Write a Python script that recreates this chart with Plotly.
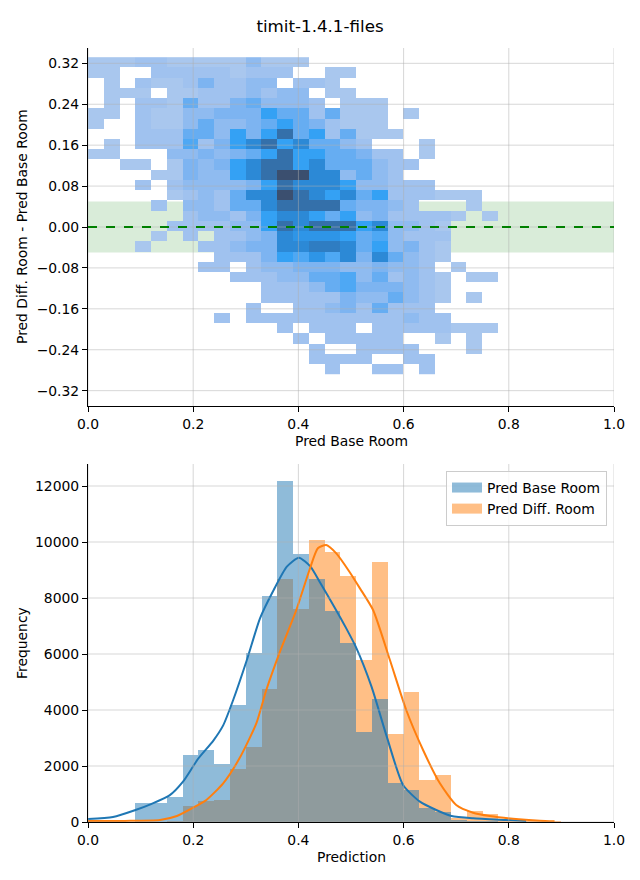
import plotly.graph_objects as go

# ---------------- data ----------------
# 2D histogram (top panel): bin edges and estimated relative bin densities (0 = empty)
heat_x_edges = [0.00, 0.03, 0.06, 0.09, 0.12, 0.15, 0.18, 0.21, 0.24, 0.27, 0.30, 0.33, 0.36,
                0.39, 0.42, 0.45, 0.48, 0.51, 0.54, 0.57, 0.60, 0.63, 0.66, 0.69, 0.72, 0.75, 0.78]
heat_y_edges_top_down = [0.332, 0.312, 0.292, 0.272, 0.252, 0.232, 0.212, 0.192, 0.172, 0.152, 0.132,
                         0.112, 0.092, 0.072, 0.052, 0.032, 0.012, -0.008, -0.028, -0.048, -0.068,
                         -0.088, -0.108, -0.128, -0.148, -0.168, -0.188, -0.208, -0.228, -0.248,
                         -0.268, -0.288]
# rows from top (y=0.33) to bottom (y=-0.29); columns x bins 0..25
heat_density = [
    [1, 1, 1, 1.5, 1.5, 1, 1, 1, 1, 1, 2, 1, 1, 1, 0, 0, 0, 0, 0, 0, 0, 0, 0, 0, 0, 0],
    [1, 1, 0, 0, 1.5, 1.5, 1.5, 1.5, 1.5, 1, 1.5, 1.5, 1.5, 0, 0, 1, 1, 0, 0, 0, 0, 0, 0, 0, 0, 0],
    [0, 1, 0, 1.5, 1, 1, 1.5, 2.5, 1.5, 1.5, 2, 2, 0, 1.5, 1.5, 1, 0, 0, 0, 0, 0, 0, 0, 0, 0, 0],
    [0, 1, 1, 1, 0, 1, 1, 1.5, 1.5, 1.5, 2, 1.5, 2, 2, 0, 1, 1, 0, 0, 0, 0, 0, 0, 0, 0, 0],
    [0, 1, 0, 1.5, 1.5, 1, 3, 1.5, 1.5, 2.5, 3, 2, 2, 2, 1.5, 0, 1, 1, 1, 0, 0, 0, 0, 0, 0, 0],
    [1, 1, 0, 1.5, 1, 1, 2, 2, 2.5, 2.5, 2.5, 4, 3, 3, 1.5, 3, 1, 1, 1, 0, 1, 0, 0, 0, 0, 0],
    [1, 0, 0, 1.5, 1, 1, 2, 3, 2, 2, 2.5, 3, 4, 3, 2.5, 1.5, 1, 1, 1, 0, 0, 0, 0, 0, 0, 0],
    [0, 0, 0, 1.5, 1.5, 1.5, 3, 3, 2, 4, 2.5, 4, 6, 3, 4, 1.5, 3, 1, 1, 1, 0, 0, 0, 0, 0, 0],
    [0, 1, 0, 1.5, 1.5, 1.5, 3.5, 1.5, 2.5, 4, 5, 6, 4, 5, 3, 3, 2, 1.5, 0, 0, 0, 1, 0, 0, 0, 0],
    [1, 1, 0, 0, 0, 2, 2, 2.5, 2, 2.5, 3, 4, 6, 4, 4, 3, 3, 2.5, 1.5, 1.5, 0, 1, 0, 0, 0, 0],
    [0, 0, 1, 1, 0, 1, 2.5, 2, 2.5, 4, 5, 6, 6, 4, 5, 3, 3, 3, 2, 1.5, 1.5, 0, 0, 0, 0, 0],
    [0, 0, 0, 0, 1, 1, 2.5, 2, 2, 4, 5, 6, 7, 7, 5, 5, 2, 3, 2, 1.5, 0, 0, 0, 0, 0, 0],
    [0, 0, 0, 1.5, 0, 1.5, 2, 2, 2, 2, 2.5, 4, 6, 5, 5, 5, 4, 2, 2, 1.5, 1.5, 1.5, 0, 0, 0, 0],
    [0, 0, 0, 0, 0, 1, 1.5, 2, 1.5, 3, 5, 5, 7, 6, 5, 4, 5, 3, 4, 1.5, 1.5, 1.5, 1, 1, 1, 0],
    [0, 0, 0, 0, 1.5, 0, 2, 2, 1.5, 3, 3, 5, 6, 6, 6, 6, 3, 2.5, 2.5, 2, 1.5, 0, 0, 0, 1, 0],
    [0, 0, 0, 0, 0, 0, 1.5, 2, 2, 1.5, 2.5, 4, 5, 5, 4, 3, 4, 2, 2.5, 1.5, 1.5, 1.5, 1.5, 1, 0, 1],
    [0, 0, 0, 0, 0, 1.5, 1.5, 1.5, 1.5, 2, 2, 4, 6, 5, 6, 6, 6, 4, 5, 2, 2, 1.5, 1, 0, 0, 0],
    [0, 0, 0, 0, 1, 0, 1.5, 0, 1.5, 1.5, 2, 2.5, 5, 4.5, 4.5, 4.5, 4, 3, 3.5, 2, 1.5, 1.5, 1.5, 0, 0, 0],
    [0, 0, 0, 1, 0, 0, 0, 1.5, 1.5, 2, 2.5, 2.5, 5, 5, 5.5, 5.5, 5, 3, 4, 2, 2.5, 1.5, 1, 0, 0, 0],
    [0, 0, 0, 0, 0, 0, 0, 0, 1.5, 1.5, 1.5, 2.5, 4, 3.5, 4.5, 3.5, 5, 2.5, 5, 3, 2, 1.5, 1, 0, 0, 0],
    [0, 0, 0, 0, 0, 0, 0, 1.5, 1.5, 0, 1.5, 2, 2, 2.5, 2.5, 2.5, 2, 2, 2.5, 2, 2, 1.5, 0, 1, 0, 0],
    [0, 0, 0, 0, 0, 0, 0, 0, 0, 1.5, 1.5, 1.5, 2, 2, 3, 3, 3.5, 2, 3, 1.5, 2, 1.5, 1, 0, 1, 1],
    [0, 0, 0, 0, 0, 0, 0, 0, 0, 0, 0, 1.5, 1.5, 1.5, 2, 3, 3.5, 2.5, 2.5, 2.5, 2, 1.5, 1, 0, 0, 0],
    [0, 0, 0, 0, 0, 0, 0, 0, 0, 0, 0, 1.5, 1.5, 1.5, 1.5, 1.5, 2.5, 2, 2, 3, 2, 1.5, 1, 0, 1, 0],
    [0, 0, 0, 0, 0, 0, 0, 0, 0, 0, 1.5, 0, 0, 1.5, 1.5, 2, 2.5, 1.5, 3, 1.5, 1.5, 1.5, 0, 0, 0, 0],
    [0, 0, 0, 0, 0, 0, 0, 0, 1.5, 0, 1.5, 1.5, 1.5, 1.5, 1.5, 1.5, 1.5, 1.5, 1.5, 1.5, 2, 1.5, 1.5, 0, 0, 0],
    [0, 0, 0, 0, 0, 0, 0, 0, 0, 0, 0, 0, 1.5, 0, 1.5, 1.5, 1.5, 0, 1.5, 1.5, 1.5, 1.5, 1.5, 1, 1, 1],
    [0, 0, 0, 0, 0, 0, 0, 0, 0, 0, 0, 0, 0, 1.5, 0, 1.5, 1.5, 1.5, 1.5, 1.5, 0, 0, 1, 0, 1, 0],
    [0, 0, 0, 0, 0, 0, 0, 0, 0, 0, 0, 0, 0, 0, 1.5, 0, 0, 1.5, 1.5, 1.5, 1.5, 0, 0, 0, 1, 0],
    [0, 0, 0, 0, 0, 0, 0, 0, 0, 0, 0, 0, 0, 0, 1.5, 1.5, 1.5, 1.5, 0, 0, 1.5, 1.5, 0, 0, 0, 0],
    [0, 0, 0, 0, 0, 0, 0, 0, 0, 0, 0, 0, 0, 0, 0, 1.5, 0, 0, 1.5, 1.5, 0, 1.5, 0, 0, 0, 0],
]

# histogram (bottom panel)
hist_bin_centers = [0.015, 0.045, 0.075, 0.105, 0.135, 0.165, 0.195, 0.225, 0.255, 0.285, 0.315,
                    0.345, 0.375, 0.405, 0.435, 0.465, 0.495, 0.525, 0.555, 0.585, 0.615, 0.645,
                    0.675, 0.705, 0.735, 0.765, 0.795, 0.825, 0.855, 0.885]
hist_base = [0, 0, 0, 690, 690, 900, 2390, 2570, 2070, 4170, 6050, 8070, 12180, 9570, 8680,
             7540, 6380, 3230, 4390, 1400, 1140, 510, 370, 80, 50, 30, 10, 10, 0, 0]
hist_diff = [0, 0, 0, 0, 10, 50, 570, 760, 790, 1900, 2690, 4740, 8680, 7610, 10070, 9630,
             8790, 5790, 9290, 3140, 4640, 1500, 1690, 130, 390, 290, 80, 50, 30, 20]

kde_base_x = [0.0, 0.0475, 0.089, 0.121, 0.155, 0.181, 0.209, 0.238, 0.257, 0.276, 0.302, 0.327,
              0.353, 0.378, 0.401, 0.423, 0.442, 0.468, 0.490, 0.509, 0.539, 0.568, 0.599, 0.631,
              0.662, 0.691, 0.732, 0.795, 0.833]
kde_base_y = [107, 180, 420, 650, 950, 1450, 2250, 2900, 3450, 4357, 5786, 7274, 8286, 9119, 9440,
              9119, 8524, 7690, 6950, 6262, 4833, 3048, 1321, 726, 429, 214, 131, 71, 36]
kde_diff_x = [0.0, 0.07, 0.137, 0.169, 0.200, 0.225, 0.257, 0.288, 0.320, 0.339, 0.365, 0.396,
              0.421, 0.437, 0.453, 0.472, 0.497, 0.517, 0.542, 0.574, 0.605, 0.637, 0.669, 0.700,
              0.732, 0.764, 0.808, 0.859, 0.887]
kde_diff_y = [36, 40, 71, 214, 512, 786, 1381, 2274, 3524, 4714, 6083, 7571, 9000, 9774, 9893,
              9595, 8940, 8345, 7571, 5786, 4000, 2571, 1381, 607, 333, 214, 119, 48, 24]

top_x_ticks = [0.0, 0.2, 0.4, 0.6, 0.8, 1.0]
top_x_labels = ["0.0", "0.2", "0.4", "0.6", "0.8", "1.0"]
top_y_ticks = [-0.32, -0.24, -0.16, -0.08, 0.0, 0.08, 0.16, 0.24, 0.32]
top_y_labels = ["\u22120.32", "\u22120.24", "\u22120.16", "\u22120.08", "0.00", "0.08", "0.16", "0.24", "0.32"]
bot_y_ticks = [0, 2000, 4000, 6000, 8000, 10000, 12000]
bot_y_labels = ["0", "2000", "4000", "6000", "8000", "10000", "12000"]

# ---------------- figure ----------------
FONT = "DejaVu Sans"
OFF = 8                      # page body margin added by the html page
W, H = 640 - OFF, 880 - OFF
ML, MR, MT, MB = 88 - OFF, 26, 48 - OFF, 58
plot_w = W - ML - MR
plot_h = H - MT - MB
top_dom = [(822 - 406) / plot_h, 1.0]
bot_dom = [0.0, (822 - 464) / plot_h]


def page_x(px):
    return (px - OFF - ML) / plot_w


def page_y(py):
    return (H - MB - (py - OFF)) / plot_h


fig = go.Figure()

z_rows = [[(v if v > 0 else None) for v in row] for row in reversed(heat_density)]
y_edges = list(reversed(heat_y_edges_top_down))

cscale = [
    [0.0, "#a9c7ee"], [0.083, "#a0c2ef"], [0.167, "#8fbbf0"], [0.25, "#7db4f1"],
    [0.333, "#66adf2"], [0.417, "#4ea8f4"], [0.5, "#34a1f4"], [0.583, "#2e95e7"],
    [0.667, "#2c89d6"], [0.75, "#2f7dc2"], [0.833, "#3470aa"], [1.0, "#3b4f6f"],
]
fig.add_trace(go.Heatmap(
    x=heat_x_edges, y=y_edges, z=z_rows, zmin=1, zmax=7, colorscale=cscale,
    showscale=False, hoverongaps=False, xaxis="x", yaxis="y", zsmooth=False,
))

BLUE_A = "rgba(31,119,180,0.5)"
ORANGE_A = "rgba(255,127,14,0.5)"
# histogram bars (orange first, blue overlaid)
fig.add_trace(go.Bar(
    x=hist_bin_centers, y=hist_diff, width=0.03, name="Pred Diff. Room",
    marker=dict(color=ORANGE_A, line=dict(width=0)), showlegend=False,
    xaxis="x2", yaxis="y2",
))
fig.add_trace(go.Bar(
    x=hist_bin_centers, y=hist_base, width=0.03, name="Pred Base Room",
    marker=dict(color=BLUE_A, line=dict(width=0)), showlegend=False,
    xaxis="x2", yaxis="y2",
))
fig.add_trace(go.Scatter(
    x=kde_base_x, y=kde_base_y, mode="lines",
    line=dict(color="#1f77b4", width=2, shape="spline", smoothing=0.6),
    showlegend=False, xaxis="x2", yaxis="y2",
))
fig.add_trace(go.Scatter(
    x=kde_diff_x, y=kde_diff_y, mode="lines",
    line=dict(color="#ff7f0e", width=2, shape="spline", smoothing=0.6),
    showlegend=False, xaxis="x2", yaxis="y2",
))
# legend patches (wide rectangles like the reference)
fig.add_trace(go.Scatter(x=[None], y=[None], mode="lines", name="Pred Base Room",
                         line=dict(color=BLUE_A, width=10), xaxis="x2", yaxis="y2", legendrank=1))
fig.add_trace(go.Scatter(x=[None], y=[None], mode="lines", name="Pred Diff. Room",
                         line=dict(color=ORANGE_A, width=10), xaxis="x2", yaxis="y2", legendrank=2))

shapes = []
shapes.append(dict(type="rect", xref="x domain", yref="y", x0=0, x1=1, y0=-0.05, y1=0.05,
                   fillcolor="rgba(0,128,0,0.15)", line=dict(width=0), layer="below"))
grid_col = "rgba(176,176,176,0.5)"
for t in top_x_ticks:
    shapes.append(dict(type="line", xref="x", yref="y domain", x0=t, x1=t, y0=0, y1=1,
                       line=dict(color=grid_col, width=1), layer="above"))
for t in top_y_ticks:
    shapes.append(dict(type="line", xref="x domain", yref="y", x0=0, x1=1, y0=t, y1=t,
                       line=dict(color=grid_col, width=1), layer="above"))
shapes.append(dict(type="line", xref="x domain", yref="y", x0=0, x1=1, y0=0, y1=0,
                   line=dict(color="green", width=2, dash="dash"), layer="above"))
for t in top_x_ticks:
    shapes.append(dict(type="line", xref="x2", yref="y2 domain", x0=t, x1=t, y0=0, y1=1,
                       line=dict(color=grid_col, width=1), layer="above"))
for t in bot_y_ticks:
    shapes.append(dict(type="line", xref="x2 domain", yref="y2", x0=0, x1=1, y0=t, y1=t,
                       line=dict(color=grid_col, width=1), layer="above"))

axis_common = dict(showline=True, linecolor="black", linewidth=1, ticks="outside", ticklen=5,
                   tickwidth=1, tickcolor="black", showgrid=False, zeroline=False,
                   layer="above traces", tickfont=dict(family=FONT, size=13.9, color="black"))

fs = 13.9
fig.update_layout(
    width=W, height=H, margin=dict(l=ML, r=MR, t=MT, b=MB, autoexpand=False),
    paper_bgcolor="white", plot_bgcolor="white",
    font=dict(family=FONT, size=fs, color="black"),
    title=dict(text="timit-1.4.1-files", x=(320 - OFF) / W, xref="container", xanchor="center",
               y=1 - (26 - OFF) / H, yref="container", yanchor="middle",
               font=dict(family=FONT, size=16.7, color="black")),
    barmode="overlay", bargap=0,
    shapes=shapes,
    xaxis=dict(domain=[0, 1], anchor="y", range=[0, 1], tickvals=top_x_ticks, ticktext=top_x_labels,
               **axis_common),
    yaxis=dict(domain=top_dom, anchor="x", range=[-0.35, 0.35], tickvals=top_y_ticks,
               ticktext=top_y_labels, **axis_common),
    xaxis2=dict(domain=[0, 1], anchor="y2", range=[0, 1], tickvals=top_x_ticks, ticktext=top_x_labels,
                **axis_common),
    yaxis2=dict(domain=bot_dom, anchor="x2", range=[0, 12786], tickvals=bot_y_ticks,
                ticktext=bot_y_labels, **axis_common),
    legend=dict(x=page_x(607), xanchor="right", y=page_y(471), yanchor="top",
                bgcolor="rgba(255,255,255,0.8)", bordercolor="#cccccc", borderwidth=1,
                font=dict(family=FONT, size=fs, color="black"), traceorder="normal",
                itemwidth=30, tracegroupgap=0),
    annotations=[
        dict(text="Pred Base Room", x=page_x(351), y=page_y(441), xref="paper", yref="paper",
             showarrow=False, xanchor="center", yanchor="middle", font=dict(family=FONT, size=fs)),
        dict(text="Pred Diff. Room - Pred Base Room", x=page_x(22), y=page_y(227), xref="paper",
             yref="paper", showarrow=False, textangle=-90, xanchor="center", yanchor="middle",
             font=dict(family=FONT, size=fs)),
        dict(text="Prediction", x=page_x(351), y=page_y(857), xref="paper", yref="paper",
             showarrow=False, xanchor="center", yanchor="middle", font=dict(family=FONT, size=fs)),
        dict(text="Frequency", x=page_x(22), y=page_y(643), xref="paper", yref="paper",
             showarrow=False, textangle=-90, xanchor="center", yanchor="middle",
             font=dict(family=FONT, size=fs)),
    ],
)

fig.write_html("out.html")
